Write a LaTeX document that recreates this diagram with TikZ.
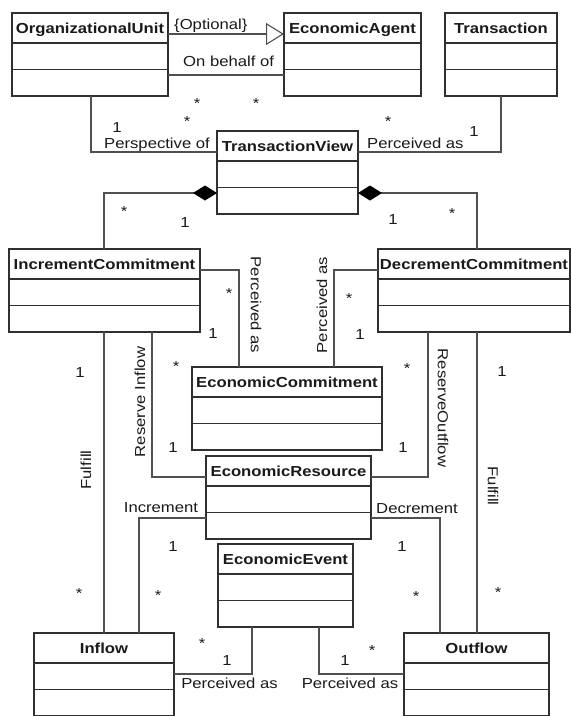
\documentclass[tikz,border=0pt]{standalone}
\usepackage{fontspec}
\setmainfont{Liberation Sans}[FakeStretch=1.15]
\usetikzlibrary{arrows.meta}
\definecolor{boxc}{HTML}{303030}
\definecolor{linec}{HTML}{505050}
\definecolor{txtc}{HTML}{1A1A1A}
\tikzset{
  clsbox/.style={draw=boxc, line width=1.4pt, inner sep=0pt, outer sep=0pt, anchor=north west},
  clsname/.style={font=\fontsize{14.5}{17}\selectfont\bfseries, inner sep=0pt, anchor=base, text=txtc},
  divline/.style={draw=boxc, line width=1.4pt},
  lbl/.style={font=\fontsize{14.5}{17}\selectfont, inner sep=0pt, text=txtc},
  mult/.style={font=\fontsize{14.5}{17}\selectfont, inner sep=0pt, anchor=base, text=txtc},
  conn/.style={draw=linec, line width=1.1pt},
  comp/.style={-{Diamond[length=24pt,width=15pt,black]}},
  gen/.style={-{Triangle[open,length=18pt,width=22pt,fill=white]}},
}
\newcommand\umlcls[5]{%
  \node[clsbox, minimum width=#4pt, minimum height=83pt] (#1) at (#2,#3) {};
  \node[clsname] (#1-name) at ([yshift=-20.5pt]#1.north) {#5};
  \draw[divline] ([yshift=-30pt]#1.north west) -- ([yshift=-30pt]#1.north east);
  \draw[divline] ([yshift=-56.5pt]#1.north west) -- ([yshift=-56.5pt]#1.north east);
}
\begin{document}
\begin{tikzpicture}[x=1pt,y=-1pt]
\useasboundingbox[fill=white] (0,0) rectangle (571,716);

% classes
\umlcls{ou}{12}{13}{156}{OrganizationalUnit}
\umlcls{ea}{284}{13}{137}{EconomicAgent}
\umlcls{tr}{445}{13}{112}{Transaction}
\umlcls{tv}{217}{131}{141}{TransactionView}
\umlcls{ic}{9}{249}{191}{IncrementCommitment}
\umlcls{dc}{378}{249}{192}{DecrementCommitment}
\umlcls{ec}{192}{367}{190}{EconomicCommitment}
\umlcls{er}{206}{456}{165}{EconomicResource}
\umlcls{ee}{218}{544}{135}{EconomicEvent}
\umlcls{inf}{34}{633}{140}{Inflow}
\umlcls{outf}{404}{633}{145}{Outflow}

% connectors
\draw[conn, gen] (ou.east |- 0,34) -- (ea.west |- 0,34);
\draw[conn] (ou.east |- 0,75) -- (ea.west |- 0,75);
\draw[conn] (ou.south -| 91,0) |- (tv.west |- 0,152);
\draw[conn] (tv.east |- 0,152) -| (tr.south -| 501,0);
\draw[conn, comp] (ic.north -| 104,0) |- (tv.west |- 0,193);
\draw[conn, comp] (dc.north -| 477,0) |- (tv.east |- 0,193);
\draw[conn] (ic.east |- 0,270) -| (ec.north -| 239,0);
\draw[conn] (dc.west |- 0,270) -| (ec.north -| 334,0);
\draw[conn] (ic.south -| 152,0) |- (er.west |- 0,477);
\draw[conn] (dc.south -| 428,0) |- (er.east |- 0,477);
\draw[conn] (ic.south -| 104,0) -- (inf.north -| 104,0);
\draw[conn] (dc.south -| 477,0) -- (outf.north -| 477,0);
\draw[conn] (er.west |- 0,518) -| (inf.north -| 139,0);
\draw[conn] (er.east |- 0,518) -| (outf.north -| 440,0);
\draw[conn] (inf.east |- 0,674) -| (ee.south -| 252,0);
\draw[conn] (ee.south -| 319,0) |- (outf.west |- 0,674);

% labels
\node[lbl, anchor=base west] (l-opt) at (174,29) {\{Optional\}};
\node[lbl, anchor=base west] (l-obo) at (183,66) {On behalf of};
\node[lbl, anchor=base west] (l-persp) at (104,148) {Perspective of};
\node[lbl, anchor=base west] (l-perc1) at (367,148) {Perceived as};
\node[lbl, rotate=-90] (l-perc2) at (256,305) {Perceived as};
\node[lbl, rotate=90] (l-perc3) at (322,305) {Perceived as};
\node[lbl, rotate=90] (l-resin) at (140,402) {Reserve Inflow};
\node[lbl, rotate=-90] (l-resout) at (443,408) {ReserveOutflow};
\node[lbl, rotate=90] (l-ful1) at (86,470) {Fulfill};
\node[lbl, rotate=-90] (l-ful2) at (493,486) {Fulfill};
\node[lbl, anchor=base] (l-inc) at (161,512) {Increment};
\node[lbl, anchor=base] (l-dec) at (417,513) {Decrement};
\node[lbl, anchor=base] (l-perc4) at (229.5,688) {Perceived as};
\node[lbl, anchor=base] (l-perc5) at (350,688) {Perceived as};

% multiplicities
\node[mult] (m1) at (197,108) {*};
\node[mult] (m2) at (256,108) {*};
\node[mult] (m3) at (187,126) {*};
\node[mult] (m4) at (117,132) {1};
\node[mult] (m5) at (388,126) {*};
\node[mult] (m6) at (474,136) {1};
\node[mult] (m7) at (124,216) {*};
\node[mult] (m8) at (185,227) {1};
\node[mult] (m9) at (393,224) {1};
\node[mult] (m10) at (452,218) {*};
\node[mult] (m11) at (229,298) {*};
\node[mult] (m12) at (213,338) {1};
\node[mult] (m13) at (349,303) {*};
\node[mult] (m14) at (360,339) {1};
\node[mult] (m15) at (176,371) {*};
\node[mult] (m16) at (173,452) {1};
\node[mult] (m17) at (407,373) {*};
\node[mult] (m18) at (403,452) {1};
\node[mult] (m19) at (80,377) {1};
\node[mult] (m20) at (79,598) {*};
\node[mult] (m21) at (502,376) {1};
\node[mult] (m22) at (498,597) {*};
\node[mult] (m23) at (173,551) {1};
\node[mult] (m24) at (158,600) {*};
\node[mult] (m25) at (402,551) {1};
\node[mult] (m26) at (416,601) {*};
\node[mult] (m27) at (202,648) {*};
\node[mult] (m28) at (227,665) {1};
\node[mult] (m29) at (372,655) {*};
\node[mult] (m30) at (345,665) {1};
\end{tikzpicture}
\end{document}
